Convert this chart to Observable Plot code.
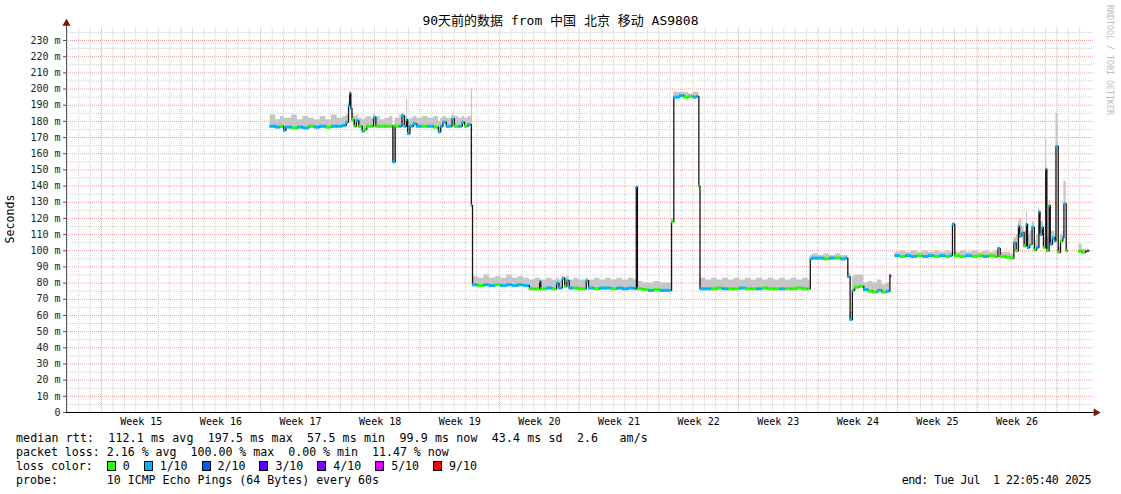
<!DOCTYPE html>
<html>
<head>
<meta charset="utf-8">
<script src="https://cdn.jsdelivr.net/npm/d3@7"></script>
<script src="https://cdn.jsdelivr.net/npm/@observablehq/plot@0.6"></script>
<style>
  html, body { margin: 0; padding: 0; background: #fff; }
  #wrap { position: relative; width: 1121px; height: 494px; overflow: hidden; background: #fff; }
  #wrap svg { position: absolute; left: 0; top: 0; }
  .mono { font-family: "DejaVu Sans Mono", "Noto Sans CJK SC", monospace; }
  #title { position: absolute; left: 0; top: 13px; width: 1121px; text-align: center; font-size: 13px; line-height: 16px; color: #000; }
  #ylab { position: absolute; left: 10px; top: 219px; transform: translate(-50%, -50%) rotate(-90deg); font-size: 11.6px; white-space: nowrap; color: #000; }
  #side { position: absolute; left: 1105px; top: 5px; writing-mode: vertical-rl; font-size: 8.3px; color: #bdbdbd; white-space: nowrap; }
  .lg { position: absolute; left: 16px; font-size: 11.6px; line-height: 14px; height: 14px; white-space: pre; color: #000; }
  #l1 { top: 431px; letter-spacing: 0.12px; }
  #l2 { top: 445px; }
  #l3 { top: 459px; }
  #l4 { top: 473px; }
  #endtxt { position: absolute; right: 30px; top: 473px; font-size: 11.6px; line-height: 14px; white-space: pre; color: #000; letter-spacing: -0.45px; }
  .ent { display: inline-block; white-space: pre; }
  .sw { display: inline-block; width: 7px; height: 8px; border: 1px solid #000; vertical-align: -1px; }
</style>
</head>
<body>
<div id="wrap">
  <div id="title" class="mono">90天前的数据 from 中国 北京 移动 AS9808</div>
  <div id="ylab" class="mono">Seconds</div>
  <div id="side" class="mono">RRDTOOL / TOBI OETIKER</div>
  <div id="l1" class="lg mono"></div>
  <div id="l2" class="lg mono"></div>
  <div id="l3" class="lg mono"></div>
  <div id="l4" class="lg mono"></div>
  <div id="endtxt" class="mono"></div>
</div>
<script>
// ---------------- DATA ----------------
// time in days since the start of the 90-day window (end: Tue Jul 1 22:05:40 2025)
// rows: [day, median ms, smoke max ms, loss level index]; null median = no data
const week17to19 = [
  [17.9, 177, 184, 1], [18.4, 176.5, 181, 1], [18.8, 177, 183, 0], [19.1, 174.5, 182, 1],
  [19.3, 176.5, 182, 1], [19.8, 176, 184, 0], [20.3, 176.5, 181, 1], [20.8, 176, 183, 1],
  [21.3, 177, 182, 0], [21.8, 176.5, 181, 1], [22.3, 177, 183, 1], [22.8, 176.5, 181, 0],
  [23.3, 177, 184, 1], [23.8, 177, 182, 1], [24.3, 177.5, 183, 1], [24.6, 179.5, 184, 1],
  [24.8, 190, 192, 1], [24.9, 197.5, 198, 1], [25.0, 188, 190, 1], [25.1, 181, 185, 0],
  [25.3, 177, 183, 0], [25.5, 180.5, 184, 1], [25.7, 177, 182, 0], [26.0, 174, 181, 1],
  [26.2, 175, 182, 0], [26.4, 177, 183, 0], [26.8, 177, 182, 0], [27.0, 182.5, 184, 1],
  [27.2, 177, 183, 0], [27.6, 177, 181, 0], [28.0, 177, 182, 0], [28.4, 177, 183, 0],
  [28.7, 155, 178, 1], [28.9, 177, 182, 0], [29.3, 177, 184, 1], [29.5, 183.5, 185, 1],
  [29.7, 177, 183, 1], [29.9, 181, 193.5, 1], [30.0, 172.5, 180, 1], [30.2, 177, 182, 1],
  [30.5, 178.5, 183, 1], [30.8, 177, 182, 1], [31.3, 177, 183, 0], [31.8, 177, 182, 1],
  [32.3, 176.5, 183, 0], [32.7, 173.5, 180, 1], [32.9, 177, 182, 1], [33.1, 179.5, 183, 1],
  [33.4, 177, 182, 1], [33.9, 181.5, 184, 1], [34.1, 177, 183, 0], [34.5, 177, 182, 1],
  [34.8, 179.5, 183, 1], [35.0, 177, 182, 0], [35.3, 178, 183, 1], [35.6, 128, 200, 1]
];
const week19to22 = [
  [35.7, 79, 84, 1], [36.2, 78.5, 83, 0], [36.7, 79, 85, 1], [37.2, 78.5, 83, 1],
  [37.7, 79, 84, 0], [38.2, 78.5, 83, 1], [38.7, 79, 85, 1], [39.2, 78.5, 83, 1],
  [39.7, 79, 84, 1], [40.2, 78.5, 83, 1], [40.7, 76.5, 82, 0], [41.2, 76.5, 83, 0],
  [41.6, 81, 83, 1], [41.7, 76.5, 82, 0], [42.2, 77, 83, 1], [42.7, 76.5, 82, 0],
  [43.1, 80, 83, 1], [43.3, 77, 82, 1], [43.6, 83, 84, 1], [43.8, 78, 83, 0],
  [44.0, 81.5, 84, 1], [44.2, 77, 82, 1], [44.6, 77, 83, 0], [45.0, 76.5, 82, 0],
  [45.7, 81.5, 83, 1], [45.9, 77, 82, 1], [46.4, 76.5, 83, 0], [46.9, 77, 82, 1],
  [47.4, 77, 83, 1], [47.9, 76.5, 82, 0], [48.4, 77, 83, 1], [48.9, 76.5, 82, 1],
  [49.4, 77, 83, 1], [49.9, 76.5, 82, 1], [50.1, 139.5, 140, 1], [50.2, 76.5, 81, 0],
  [50.7, 76, 80, 0], [51.2, 75.5, 80, 1], [51.7, 76, 81, 0], [52.2, 75.5, 80, 1],
  [52.7, 75.5, 80, 1], [53.2, 118, 120, 0], [53.4, 195, 198, 1], [53.9, 196, 198, 1],
  [54.3, 195, 198, 0], [54.7, 195.5, 197, 0], [55.1, 195, 198, 1], [55.4, 195.5, 198, 1],
  [55.6, 140, 141, 0]
];
const week22to24 = [
  [55.7, 76.5, 83, 1], [56.2, 76.5, 82, 1], [56.7, 76.5, 83, 0], [57.2, 77, 82, 0],
  [57.7, 76.5, 83, 1], [58.2, 76.5, 82, 0], [58.7, 76.5, 83, 0], [59.2, 77, 82, 1],
  [59.7, 76.5, 83, 0], [60.2, 76.5, 82, 0], [60.7, 76.5, 83, 1], [61.2, 77, 82, 0],
  [61.7, 76.5, 83, 0], [62.2, 76.5, 82, 0], [62.7, 76.5, 83, 1], [63.2, 76.5, 82, 0],
  [63.7, 76.5, 83, 0], [64.2, 77, 82, 0], [64.7, 76.5, 83, 0], [65.2, 76.5, 82, 0],
  [65.4, 95, 97, 1], [65.6, 95.5, 98, 1], [66.1, 95.5, 97, 1], [66.6, 95, 98, 0],
  [67.1, 95.5, 97, 1], [67.6, 95.5, 98, 0], [68.1, 95, 97, 1], [68.5, 95.5, 97, 1],
  [68.7, 84, 86, 1], [68.9, 57.5, 62, 1], [69.1, 75.5, 84, 1], [69.3, 77.5, 85, 0],
  [69.7, 78, 85, 0], [70.1, 76, 80, 1], [70.5, 75, 81, 0], [70.9, 74.5, 80, 0],
  [71.3, 75.5, 82, 1], [71.7, 74.5, 79, 0], [72.1, 75, 80, 1], [72.4, 84.5, 86, 3],
  [72.5, null, null, null]
];
const week25to26 = [
  [72.85, 97, 99, 1], [73.3, 96.5, 100, 0], [73.8, 97, 99, 1], [74.3, 96.5, 100, 1],
  [74.8, 97, 99, 0], [75.3, 96.5, 100, 1], [75.8, 97, 99, 1], [76.3, 96.5, 100, 0],
  [76.8, 97, 99, 1], [77.3, 96.5, 100, 0], [77.7, 97, 99, 1], [77.9, 116.5, 117, 1],
  [78.1, 97, 99, 0], [78.6, 96.5, 100, 0], [79.1, 97, 99, 1], [79.6, 96.5, 100, 0],
  [80.1, 97, 99, 0], [80.6, 96.5, 100, 1], [81.1, 97, 99, 0], [81.6, 96.5, 100, 0],
  [81.9, 101.5, 102, 1], [82.1, 96.5, 99, 0], [82.6, 96, 99, 0], [83.0, 95.5, 98, 0],
  [83.3, 105, 108, 1], [83.5, 100, 110, 0], [83.7, 115, 118, 1], [83.8, 109, 120, 1],
  [84.0, 111, 115, 1], [84.2, 103, 112, 0], [84.4, 116.5, 124, 1], [84.5, 102, 110, 1],
  [84.7, 104, 112, 0], [84.9, 114.5, 118, 1], [85.1, 100.5, 106, 0], [85.3, 102, 110, 1],
  [85.5, 124, 126, 1], [85.6, 110, 118, 1], [85.8, 114.5, 118, 1], [85.9, 102, 108, 0],
  [86.1, 150.5, 170, 1], [86.2, 100, 108, 0], [86.4, 128, 131, 0], [86.5, 104, 112, 1],
  [86.7, 108, 112, 1], [86.9, 106, 110, 1], [87.0, 164.5, 185, 1], [87.2, 99, 102, 0],
  [87.4, 106, 110, 0], [87.6, 108, 112, 1], [87.7, 129, 143, 1], [87.9, 100, 104, 0],
  [88.0, null, null, null]
];
const lastHours = [
  [89.0, 99.7, 104, 0], [89.3, 99, 101, 0], [89.6, 99.5, 101, 3], [89.7, null, null, null],
  [89.8, 100, 101, 2], [89.9, null, null, null]
];

const lossColors = ["#26ff00", "#00b8ff", "#0059ff", "#5e00ff", "#7e00ff", "#dd00ff", "#ff0000"];
const lossLabels = ["0", "1/10", "2/10", "3/10", "4/10", "5/10", "9/10"];
const weekLabels = ["Week 15", "Week 16", "Week 17", "Week 18", "Week 19", "Week 20",
                    "Week 21", "Week 22", "Week 23", "Week 24", "Week 25", "Week 26"];
const yTickValues = [0, 10, 20, 30, 40, 50, 60, 70, 80, 90, 100, 110, 120, 130, 140, 150,
                     160, 170, 180, 190, 200, 210, 220, 230];
const statsRtt = "median rtt:  112.1 ms avg  197.5 ms max  57.5 ms min  99.9 ms now  43.4 ms sd  2.6   am/s";
const statsLoss = "packet loss: 2.16 % avg  100.00 % max  0.00 % min  11.47 % now";
const lossTitle = "loss color:  ";
const probeText = "probe:       10 ICMP Echo Pings (64 Bytes) every 60s";
const endText = "end: Tue Jul  1 22:05:40 2025";

// ---------------- BUILD ----------------
const START = Date.UTC(2025, 3, 2, 22, 5, 40);
const DAY = 864e5;
const xMax = 90.3;
const yMax = 238.04;

const rows = [...week17to19, ...week19to22, ...week22to24, ...week25to26, ...lastHours]
  .map(([t, m, h, l]) => ({t, m, h, l}));

const steps = [];
const segs = [];
for (let i = 0; i < rows.length - 1; i++) {
  const r = rows[i], n = rows[i + 1];
  if (r.m == null) { steps.push({t: r.t, m: NaN, lo: NaN, h: NaN}); continue; }
  steps.push({t: r.t, m: r.m, lo: r.m - 1.2, h: r.h});
  steps.push({t: n.t, m: r.m, lo: r.m - 1.2, h: r.h});
  segs.push({t0: r.t, t1: n.t, m: r.m, c: lossColors[r.l]});
}

// daily grid, Sunday (week) grid, week label positions
const firstMidnight = (Date.UTC(2025, 3, 3) - START) / DAY;
const dayLines = [], weekLines = [];
for (let k = 0; k < 90; k++) {
  const d = firstMidnight + k;
  const wd = new Date(START + d * DAY).getUTCDay();
  if (d > xMax - 1.1) break;
  (wd === 0 ? weekLines : dayLines).push(d);
}
const weekMids = weekLabels.map((_, i) => weekLines[i] + 3.5);
const minorY = [], majorY = [];
for (let v = 5; v <= 235; v += 5) (v % 10 === 0 ? majorY : minorY).push(v);

const gridMinor = "#cfcfcf", gridMajor = "#f0a0a0";

const chart = Plot.plot({
  width: 1121, height: 432,
  marginLeft: 66, marginRight: 28, marginTop: 27, marginBottom: 20,
  x: {domain: [0, xMax], axis: null},
  y: {domain: [0, yMax], axis: null},
  color: {type: "identity"},
  style: {fontFamily: "DejaVu Sans Mono", fontSize: "10px", background: "transparent", overflow: "visible"},
  marks: [
    Plot.ruleX(dayLines, {stroke: gridMinor, strokeDasharray: "1,1"}),
    Plot.ruleY(minorY, {stroke: gridMinor, strokeDasharray: "1,1"}),
    Plot.ruleX(weekLines, {stroke: gridMajor, strokeDasharray: "1,1"}),
    Plot.ruleY(majorY, {stroke: gridMajor, strokeDasharray: "1,1"}),
    Plot.areaY(steps, {x: "t", y1: "lo", y2: "h", fill: "#c6c6c6", curve: "linear"}),
    Plot.line(steps, {x: "t", y: "m", stroke: "#161616", strokeWidth: 1.3, curve: "linear"}),
    Plot.ruleY(segs, {x1: "t0", x2: "t1", y: "m", stroke: "c", strokeWidth: 3}),
    Plot.axisY({ticks: yTickValues, tickFormat: d => d === 0 ? "0" : `${d} m`, tickSize: 3,
                tickPadding: 3, label: null, fill: "#222", stroke: "#555"}),
    Plot.axisX({ticks: weekMids, tickFormat: (d, i) => weekLabels[i], tickSize: 0,
                tickPadding: 5, label: null, fill: "#000"}),
    Plot.ruleY([0], {x1: 0, x2: 90.45, stroke: "#000"}),
    Plot.ruleX([0], {y1: 0, y2: 240.5, stroke: "#555"}),
    Plot.dot([0], {x: 0, y: 240.6, symbol: "triangle", r: 3, fill: "#7a1414", stroke: null}),
    Plot.dot([0], {x: 90.52, y: 0, symbol: "triangle", r: 3, rotate: 90, fill: "#7a1414", stroke: null})
  ]
});
document.getElementById("wrap").prepend(chart);

// legend
document.getElementById("l1").textContent = statsRtt;
document.getElementById("l2").textContent = statsLoss;
document.getElementById("l3").innerHTML = `<span class="ent">${lossTitle}</span>` +
  lossColors.map((c, i) =>
    `<span class="ent"><span class="sw" style="background:${c}"></span> ${lossLabels[i]}${i < lossColors.length - 1 ? "  " : ""}</span>`).join("");
document.getElementById("l4").textContent = probeText;
document.getElementById("endtxt").textContent = endText;
</script>
</body>
</html>
